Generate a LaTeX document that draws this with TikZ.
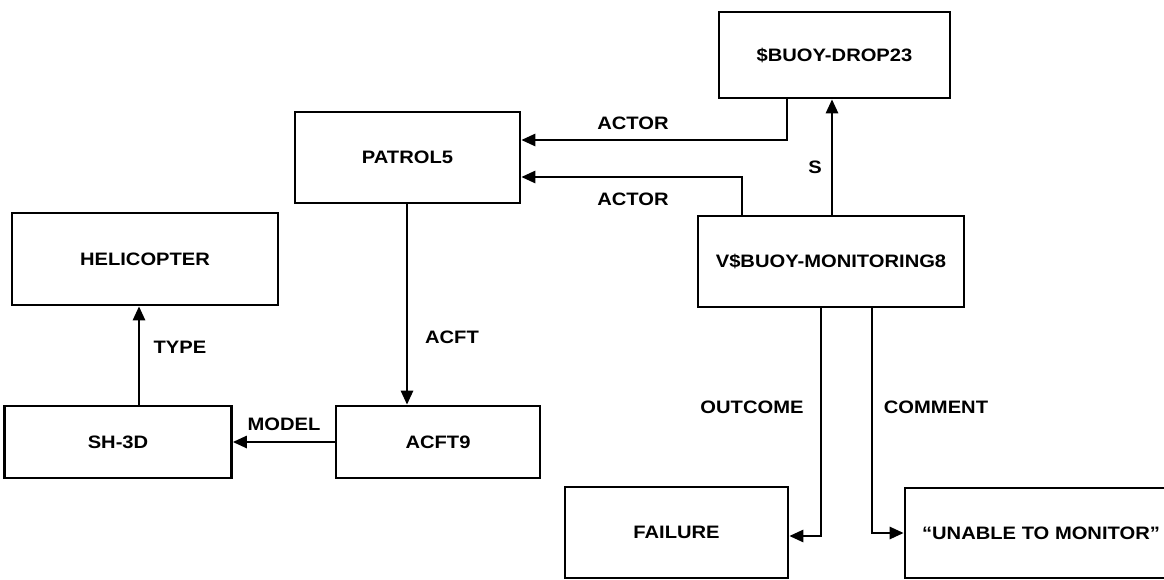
\documentclass[tikz,border=0pt]{standalone}
\usepackage{fontspec}
\setmainfont[FakeStretch=1.12]{Liberation Sans}
\usetikzlibrary{arrows.meta}
\begin{document}
\begin{tikzpicture}[x=1pt,y=-1pt,
  box/.style={draw,line width=2.6pt,rectangle,inner sep=0pt,font=\bfseries\fontsize{18}{21}\selectfont},
  link/.style={line width=2.6pt,-{Triangle[length=14pt,width=12pt]}},
  lbl/.style={font=\bfseries\fontsize{18}{21}\selectfont,inner sep=0pt}]
\useasboundingbox (0,0) rectangle (1164,580);
% concept boxes
\node[box,minimum width=231pt,minimum height=86pt] (buoy) at (834.5,55) {\$BUOY-DROP23};
\node[box,minimum width=225pt,minimum height=91pt] (patrol) at (407.5,157.5) {PATROL5};
\node[box,minimum width=266pt,minimum height=92pt] (heli) at (145,259) {HELICOPTER};
\node[box,minimum width=266pt,minimum height=91pt] (mon) at (831,261.5) {V\$BUOY-MONITORING8};
\node[box,minimum width=227pt,minimum height=72pt] (sh) at (118,442) {SH-3D};
\node[box,minimum width=204pt,minimum height=72pt] (acft) at (438,442) {ACFT9};
\node[box,minimum width=223pt,minimum height=91pt] (fail) at (676.5,532.5) {FAILURE};
\node[box,minimum width=272pt,minimum height=90pt] (unable) at (1041,533) {``UNABLE TO MONITOR''};
% relation links
\coordinate (a1) at (787,140);
\coordinate (a2) at (742,177);
\coordinate (o1) at (821,536);
\coordinate (c1) at (872,533);
\draw[link] (buoy.south -| a1) -- (a1) -- (a1 -| patrol.east);
\draw[link] (mon.north -| a2) -- (a2) -- (a2 -| patrol.east);
\draw[link] (mon.north -| 832,0) -- (buoy.south -| 832,0);
\draw[link] (patrol.south -| 407,0) -- (acft.north -| 407,0);
\draw[link] (acft.west) -- (sh.east);
\draw[link] (sh.north -| 139,0) -- (heli.south -| 139,0);
\draw[link] (mon.south -| o1) -- (o1) -- (o1 -| fail.east);
\draw[link] (mon.south -| c1) -- (c1) -- (c1 -| unable.west);
% relation labels
\node[lbl] (l1) at (633,123) {ACTOR};
\node[lbl] (l2) at (633,199) {ACTOR};
\node[lbl] (l3) at (815,167) {S};
\node[lbl] (l4) at (452,337) {ACFT};
\node[lbl] (l5) at (180,347) {TYPE};
\node[lbl] (l6) at (284,424) {MODEL};
\node[lbl] (l7) at (752,407) {OUTCOME};
\node[lbl] (l8) at (936,407) {COMMENT};
\end{tikzpicture}
\end{document}
